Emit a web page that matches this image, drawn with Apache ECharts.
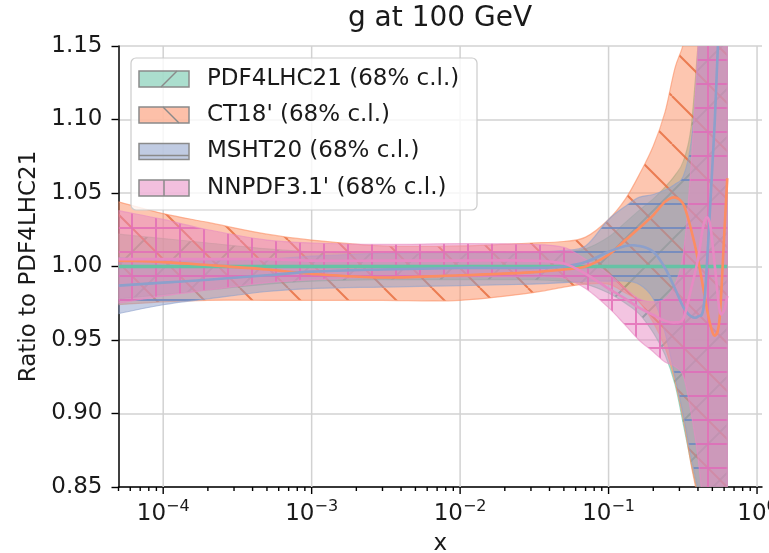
<!DOCTYPE html>
<html>
<head>
<meta charset="utf-8">
<script src="https://cdn.jsdelivr.net/npm/echarts@6/dist/echarts.min.js"></script>
<style>html,body{margin:0;padding:0;background:#fff;}#c{width:769px;height:553px;}</style>
</head>
<body>
<div id="c"></div>
<script>
// ---------- data ----------
const xs = [5e-5, 1e-4, 2e-4, 5e-4, 1e-3, 3e-3, 1e-2, 3e-2, 5e-2, 7e-2, 0.1, 0.13, 0.16, 0.2, 0.24, 0.28, 0.32, 0.36, 0.4, 0.44, 0.48, 0.52, 0.56, 0.6, 0.63];

const pdf4_c  = [1,1,1,1,1,1,1,1,1,1,1,1,1,1,1,1,1,1,1,1,1,1,1,1,1];
const pdf4_lo = [0.978,0.981,0.984,0.988,0.990,0.991,0.991,0.991,0.990,0.988,0.982,0.975,0.968,0.955,0.940,0.920,0.892,0.866,0.845,0.82,0.79,0.76,0.73,0.70,0.68];
const pdf4_hi = [1.022,1.019,1.016,1.012,1.010,1.009,1.009,1.009,1.010,1.012,1.020,1.030,1.038,1.046,1.054,1.062,1.072,1.095,1.15,1.2,1.25,1.3,1.3,1.3,1.3];

const ct18_c  = [1.004,1.003,1.001,0.998,0.995,0.9925,0.994,0.996,0.998,1.000,1.008,1.018,1.026,1.035,1.044,1.047,1.042,1.025,1.005,0.982,0.962,0.953,0.965,1.02,1.06];
const ct18_lo = [0.974,0.976,0.977,0.977,0.977,0.977,0.977,0.982,0.986,0.988,0.988,0.982,0.976,0.962,0.945,0.922,0.895,0.865,0.84,0.80,0.76,0.72,0.68,0.64,0.60];
const ct18_hi = [1.044,1.036,1.030,1.022,1.018,1.014,1.014,1.016,1.017,1.020,1.032,1.046,1.062,1.082,1.105,1.135,1.152,1.18,1.22,1.26,1.30,1.34,1.38,1.42,1.45];

const msht_c  = [0.987,0.989,0.991,0.994,0.9965,0.998,0.999,0.999,1.000,1.003,1.010,1.014,1.014,1.010,0.999,0.985,0.972,0.966,0.966,0.975,1.035,1.10,1.18,1.26,1.32];
const msht_lo = [0.968,0.974,0.978,0.983,0.985,0.986,0.987,0.988,0.989,0.990,0.990,0.990,0.988,0.978,0.955,0.925,0.898,0.870,0.848,0.82,0.79,0.77,0.75,0.74,0.73];
const msht_hi = [1.006,1.004,1.004,1.005,1.007,1.009,1.010,1.010,1.011,1.014,1.032,1.041,1.047,1.049,1.052,1.056,1.062,1.085,1.14,1.22,1.30,1.38,1.45,1.50,1.55];

const nnpdf_c  = [1.005,1.005,1.005,1.005,1.004,1.004,1.004,1.004,1.002,0.995,0.985,0.978,0.972,0.967,0.963,0.962,0.965,0.985,1.005,1.03,1.03,1.00,0.97,0.97,0.98];
const nnpdf_lo = [0.975,0.980,0.984,0.989,0.991,0.993,0.993,0.993,0.992,0.985,0.972,0.960,0.950,0.942,0.935,0.932,0.925,0.900,0.870,0.83,0.79,0.75,0.72,0.70,0.68];
const nnpdf_hi = [1.038,1.032,1.025,1.018,1.016,1.015,1.0155,1.015,1.013,1.005,0.995,0.985,0.978,0.976,0.978,0.988,1.010,1.07,1.15,1.25,1.35,1.40,1.45,1.50,1.50];

const seriesNames = ["PDF4LHC21 (68% c.l.)", "CT18' (68% c.l.)", "MSHT20 (68% c.l.)", "NNPDF3.1' (68% c.l.)"];
const xMajorTicks = [1e-4, 1e-3, 1e-2, 1e-1, 1];
const xMinorMult = [2, 3, 4, 5, 6, 7, 8, 9];
const xMinorDecades = [1e-5, 1e-4, 1e-3, 1e-2, 1e-1];
const yMin = 0.85, yMax = 1.15, yStep = 0.05;
const xMin = 5e-5, xMax = 1.08;

// ---------- styling ----------
const FONT = 'DejaVu Sans';
const bands = [
  {c: pdf4_c,  lo: pdf4_lo,  hi: pdf4_hi,  rgb: '102,194,165', hatchRgb: '70,160,130', kind: '/'},
  {c: ct18_c,  lo: ct18_lo,  hi: ct18_hi,  rgb: '252,141,98',  hatchRgb: '232,112,66', kind: '\\'},
  {c: msht_c,  lo: msht_lo,  hi: msht_hi,  rgb: '141,160,203', hatchRgb: '112,136,192', kind: '-'},
  {c: nnpdf_c, lo: nnpdf_lo, hi: nnpdf_hi, rgb: '231,138,195', hatchRgb: '228,112,184', kind: '+'}
];

function hatchPattern(rgb, hatchRgb, kind) {
  const size = (kind === '/' || kind === '\\') ? 48 : 24;
  const cv = document.createElement('canvas');
  cv.width = size; cv.height = size;
  const g = cv.getContext('2d');
  g.fillStyle = 'rgba(' + rgb + ',0.5)';
  g.fillRect(0, 0, size, size);
  g.strokeStyle = 'rgba(' + hatchRgb + ',0.85)';
  g.lineWidth = 2;
  g.beginPath();
  if (kind === '/') {
    for (const o of [-size, 0, size]) { g.moveTo(o, size); g.lineTo(o + size, 0); }
  } else if (kind === '\\') {
    for (const o of [-size, 0, size]) { g.moveTo(o, 0); g.lineTo(o + size, size); }
  } else if (kind === '-') {
    g.moveTo(0, size / 2); g.lineTo(size, size / 2);
  } else {
    g.moveTo(0, size / 2); g.lineTo(size, size / 2);
    g.moveTo(size / 2, 0); g.lineTo(size / 2, size);
  }
  g.stroke();
  return {image: cv, repeat: 'repeat'};
}

// smooth (x-monotone cubic) path segments through pixel points
function curveSegs(pts) {
  const n = pts.length, m = [];
  for (let i = 0; i < n; i++) {
    const a = pts[Math.max(0, i - 1)], b = pts[Math.min(n - 1, i + 1)];
    m.push((b[1] - a[1]) / (b[0] - a[0]));
  }
  let s = '';
  for (let i = 0; i < n - 1; i++) {
    const p1 = pts[i], p2 = pts[i + 1], dx = (p2[0] - p1[0]) / 3;
    s += ' C' + (p1[0] + dx) + ',' + (p1[1] + m[i] * dx) + ' ' + (p2[0] - dx) + ',' + (p2[1] - m[i + 1] * dx) + ' ' + p2[0] + ',' + p2[1];
  }
  return s;
}

const series = [];
// x grid lines (vertical) at decades
series.push({
  type: 'custom', z: 1, silent: true, clip: false,
  data: xMajorTicks.map(v => [v, yMin]),
  renderItem: function (params, api) {
    const x = api.value(0);
    const p1 = api.coord([x, yMax]);
    const p2 = api.coord([x, yMin]);
    return {type: 'line', shape: {x1: p1[0], y1: p1[1], x2: p2[0], y2: p2[1]},
      style: {stroke: '#d2d2d2', lineWidth: 1.5}};
  }
});

// bands
bands.forEach((b, i) => {
  const fill = hatchPattern(b.rgb, b.hatchRgb, b.kind);
  series.push({
    type: 'custom', z: 2 + i, silent: true, clip: true,
    data: xs.map((x, k) => [x, b.lo[k], b.hi[k]]),
    encode: {x: 0, y: [1, 2]},
    renderItem: function (params, api) {
      if (params.dataIndex !== 0) return null;
      const up = [], lo = [];
      for (let k = 0; k < xs.length; k++) {
        up.push(api.coord([xs[k], b.hi[k]]));
        lo.push(api.coord([xs[k], b.lo[k]]));
      }
      lo.reverse();
      const d = 'M' + up[0][0] + ',' + up[0][1] + curveSegs(up) +
        ' L' + lo[0][0] + ',' + lo[0][1] + curveSegs(lo) + ' Z';
      const cs = params.coordSys;
      return {
        type: 'path', shape: {pathData: d},
        clipPath: {type: 'rect', shape: {x: cs.x, y: cs.y, width: cs.width, height: cs.height}},
        style: {fill: fill, stroke: 'rgba(' + b.rgb + ',0.6)', lineWidth: 1.2}
      };
    }
  });
});

// central lines
bands.forEach((b, i) => {
  series.push({
    type: 'custom', z: 10 + i, silent: true, clip: true,
    data: xs.map((x, k) => [x, b.c[k]]),
    renderItem: function (params, api) {
      if (params.dataIndex !== 0) return null;
      const pts = xs.map((x, k) => api.coord([x, b.c[k]]));
      const d = 'M' + pts[0][0] + ',' + pts[0][1] + curveSegs(pts);
      const cs = params.coordSys;
      return {
        type: 'path', shape: {pathData: d},
        clipPath: {type: 'rect', shape: {x: cs.x, y: cs.y, width: cs.width, height: cs.height}},
        style: {fill: null, stroke: 'rgb(' + b.rgb + ')', lineWidth: i === 0 ? 3.5 : 2.6}
      };
    }
  });
});

// x ticks (major + minor) drawn below the axis line
const xTickData = xMajorTicks.map(v => [v, yMin, 1]);
xMinorDecades.forEach(d => xMinorMult.forEach(m => {
  const v = d * m;
  if (v >= xMin && v <= xMax) xTickData.push([v, yMin, 0]);
}));
series.push({
  type: 'custom', z: 20, silent: true, clip: false,
  data: xTickData,
  renderItem: function (params, api) {
    const x = api.value(0);
    const p = api.coord([x, yMin]);
    const len = api.value(2) ? 7 : 4;
    return {type: 'line', shape: {x1: p[0], y1: p[1], x2: p[0], y2: p[1] + len},
      style: {stroke: '#000', lineWidth: 1.4}};
  }
});

// legend (drawn as graphic)
const legendEls = [];
legendEls.push({type: 'rect', z: 100, shape: {x: 131, y: 58, width: 346, height: 152, r: 5},
  style: {fill: 'rgba(255,255,255,0.82)', stroke: '#cccccc', lineWidth: 1.2}});
const rowY = [79, 115, 151.5, 188];
bands.forEach((b, i) => {
  const y0 = rowY[i] - 8;
  legendEls.push({type: 'rect', z: 101, shape: {x: 139, y: y0, width: 50, height: 16},
    style: {fill: 'rgba(' + b.rgb + ',0.55)', stroke: '#8a8a8a', lineWidth: 1.5}});
  let shape;
  if (b.kind === '/') shape = {x1: 161, y1: y0 + 16, x2: 177, y2: y0};
  else if (b.kind === '\\') shape = {x1: 163, y1: y0, x2: 179, y2: y0 + 16};
  else if (b.kind === '-') shape = {x1: 139, y1: y0 + 12, x2: 189, y2: y0 + 12};
  else shape = {x1: 164, y1: y0, x2: 164, y2: y0 + 16};
  legendEls.push({type: 'line', z: 102, shape: shape, style: {stroke: '#8a8a8a', lineWidth: 1.5}});
  legendEls.push({type: 'text', z: 102, x: 207, y: rowY[i],
    style: {text: seriesNames[i], font: '23px "' + FONT + '"', fill: '#1a1a1a',
      align: 'left', verticalAlign: 'middle', textAlign: 'left', textVerticalAlign: 'middle'}});
});
legendEls.push({type: 'text', z: 102, x: 440, y: 19,
  style: {text: 'g at 100 GeV', font: '28px "' + FONT + '"', fill: '#1a1a1a',
    align: 'center', verticalAlign: 'middle', textAlign: 'center', textVerticalAlign: 'middle'}});

const option = {
  animation: false,
  textStyle: {fontFamily: FONT},
  grid: {left: 118.5, right: 7, top: 46, bottom: 66, containLabel: false, outerBoundsMode: 'none'},
  xAxis: {
    type: 'log', logBase: 10, min: xMin, max: xMax,
    name: 'x', nameLocation: 'middle', nameGap: 46,
    nameTextStyle: {fontSize: 23, color: '#1a1a1a', fontFamily: FONT},
    axisLine: {show: true, onZero: false, lineStyle: {color: '#000', width: 1.5}},
    axisTick: {show: false},
    splitLine: {show: false},
    minorTick: {show: false},
    axisLabel: {
      interval: 0, hideOverlap: false, margin: 12, color: '#1a1a1a',
      showMinLabel: true, showMaxLabel: true,
      formatter: function (v) {
        const l = Math.log10(v);
        const e = Math.round(l);
        if (Math.abs(l - e) > 1e-6) return '';
        return '{b|10}{s|' + (e < 0 ? '\u2212' : '') + Math.abs(e) + '}';
      },
      rich: {
        b: {fontSize: 23, fontFamily: FONT, color: '#1a1a1a'},
        s: {fontSize: 16, fontFamily: FONT, color: '#1a1a1a', padding: [0, 0, 14, 0]}
      }
    }
  },
  yAxis: {
    type: 'value', min: yMin, max: yMax, interval: yStep,
    name: 'Ratio to PDF4LHC21', nameLocation: 'middle', nameGap: 76,
    nameTextStyle: {fontSize: 23, color: '#1a1a1a', fontFamily: FONT},
    axisLine: {show: true, lineStyle: {color: '#000', width: 1.5}},
    axisTick: {show: true, length: 7, lineStyle: {color: '#000', width: 1.4}},
    axisLabel: {fontSize: 23, color: '#1a1a1a', margin: 16, fontFamily: FONT,
      formatter: v => v.toFixed(2)},
    splitLine: {show: true, lineStyle: {color: '#d2d2d2', width: 1.5}}
  },
  graphic: legendEls,
  series: series
};

const chart = echarts.init(document.getElementById('c'), null, {renderer: 'canvas'});
chart.setOption(option);
</script>
</body>
</html>
